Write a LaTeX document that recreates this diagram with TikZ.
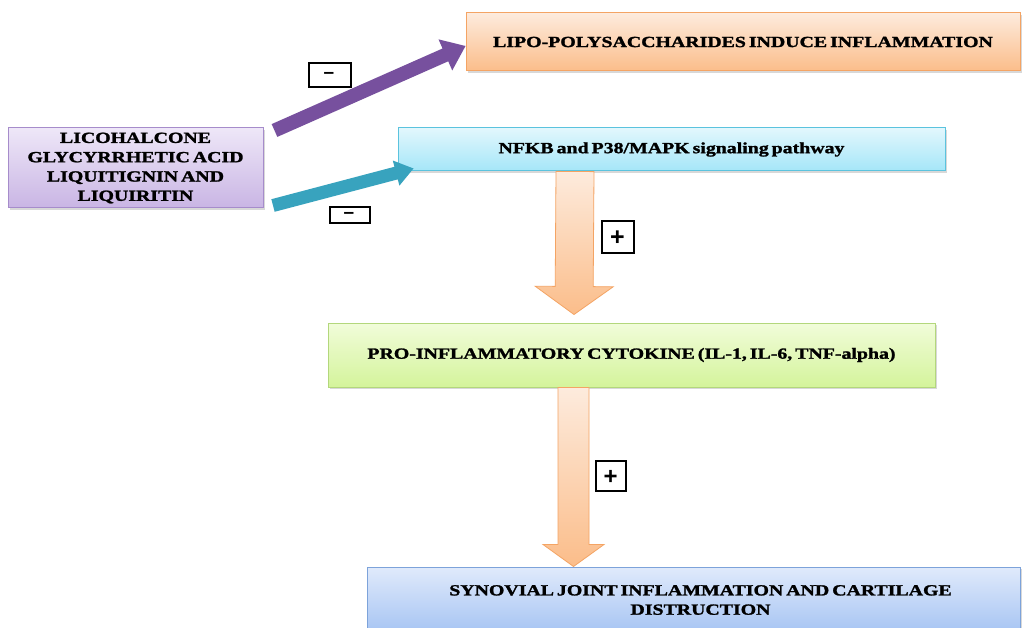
\documentclass[tikz,border=0pt]{standalone}
\usepackage{fontspec}
\setmainfont{Liberation Serif}[FakeStretch=1.28, WordSpace=0.6, BoldFeatures={FakeBold=1.6}]
\newfontfamily\signfont{Liberation Sans}
\usetikzlibrary{calc,shadows}

% box colours (top, bottom, border)
\definecolor{purTop}{HTML}{EEE7F8}
\definecolor{purBot}{HTML}{C9B5E4}
\definecolor{purLine}{HTML}{A68CCB}
\definecolor{orTop}{HTML}{FDEBDD}
\definecolor{orBot}{HTML}{FBBD8A}
\definecolor{orLine}{HTML}{F4A464}
\definecolor{cyTop}{HTML}{E2F7FD}
\definecolor{cyBot}{HTML}{A5E6F8}
\definecolor{cyLine}{HTML}{5BC3DE}
\definecolor{grTop}{HTML}{F1FCDA}
\definecolor{grBot}{HTML}{D4F49B}
\definecolor{grLine}{HTML}{B3D77C}
\definecolor{blTop}{HTML}{E0EAFB}
\definecolor{blBot}{HTML}{A6C4F3}
\definecolor{blLine}{HTML}{7DA3DA}
\definecolor{arPurple}{HTML}{77509E}
\definecolor{arTeal}{HTML}{38A3BE}

\tikzset{
  x=1pt, y=-1pt,
  stage/.style n args={3}{draw=#3, line width=1pt, top color=#1, bottom color=#2,
    drop shadow={shadow xshift=2pt, shadow yshift=-2pt, opacity=0.3},
    font=\bfseries\fontsize{15.5}{19.3}\selectfont, align=center, inner sep=0pt},
  signbox/.style={draw=black, line width=2.5pt, fill=white, inner sep=0pt},
  signtext/.style={inner sep=0pt, font=\signfont\bfseries\fontsize{#1}{#1}\selectfont},
  flowarrow/.style={draw=orLine, line width=0.8pt, top color=orTop, bottom color=orBot},
}

% block arrow: #1 tail, #2 tip, #3 shaft half width, #4 head half width, #5 head length, #6 style
\newcommand\blockarrow[6]{%
  \coordinate (ba-h) at ($(#2)!#5!(#1)$);
  \path[#6] ($(#1)!#3!90:(#2)$) -- ($(ba-h)!#3!90:(#2)$) -- ($(ba-h)!#4!90:(#2)$)
    -- (#2) -- ($(ba-h)!#4!-90:(#2)$) -- ($(ba-h)!#3!-90:(#2)$)
    -- ($(#1)!#3!-90:(#2)$) -- cycle;
}

\begin{document}
\begin{tikzpicture}
\path[use as bounding box, clip] (0,0) rectangle (1022,628);
\fill[white] (0,0) rectangle (1022,628);

% stages
\node[stage={purTop}{purBot}{purLine}, minimum width=255pt, minimum height=80pt]
  (herbs) at (135.5,168) {LICOHALCONE\\GLYCYRRHETIC ACID\\LIQUITIGNIN AND\\LIQUIRITIN};
\node[stage={orTop}{orBot}{orLine}, minimum width=554pt, minimum height=58pt]
  (lps) at (743,42) {LIPO-POLYSACCHARIDES INDUCE INFLAMMATION};
\node[stage={cyTop}{cyBot}{cyLine}, minimum width=547pt, minimum height=43pt]
  (nfkb) at (671.5,149.5) {NFKB and P38/MAPK signaling pathway};
\node[stage={grTop}{grBot}{grLine}, minimum width=607pt, minimum height=64pt]
  (cyto) at (631.5,355) {PRO-INFLAMMATORY CYTOKINE (IL-1, IL-6, TNF-alpha)};
\node[stage={blTop}{blBot}{blLine}, minimum width=653pt, minimum height=66pt]
  (joint) at (693.5,600) {\hspace*{14pt}SYNOVIAL JOINT INFLAMMATION AND CARTILAGE\\\hspace*{14pt}DISTRUCTION};

% inhibitory arrows from the herbal compounds
\coordinate (p-tail) at ($(herbs.north east)+(11,3)$);
\coordinate (p-tip)  at ($(lps.west)+(0,4)$);
\blockarrow{p-tail}{p-tip}{7pt}{17pt}{22pt}{fill=arPurple}
\coordinate (t-tail) at ($(herbs.south east)+(9.5,-3)$);
\coordinate (t-tip)  at ($(nfkb.south west)+(16,-3)$);
\blockarrow{t-tail}{t-tip}{6.5pt}{13pt}{18pt}{fill=arTeal}

% activating arrows down the cascade
\coordinate (d1-tail) at (nfkb.south -| 575,0);
\coordinate (d1-tip)  at ($(cyto.north -| 574,0)+(0,-8)$);
\blockarrow{d1-tail}{d1-tip}{19pt}{39pt}{28pt}{flowarrow}
\coordinate (d2-tail) at (cyto.south -| 573.5,0);
\coordinate (d2-tip)  at (joint.north -| 573.5,0);
\blockarrow{d2-tail}{d2-tip}{15.5pt}{30.5pt}{22pt}{flowarrow}

% signs on the arrows
\node[signbox, minimum width=42pt, minimum height=24pt] (m1) at (330,75) {};
\node[signtext=19] at (329,75) {–};
\node[signbox, minimum width=40pt, minimum height=16pt] (m2) at (350,215) {};
\node[signtext=19] at (349,215) {–};
\node[signbox, minimum width=32pt, minimum height=32pt] (s1) at (618,237) {};
\node[signtext=25] at (617.5,238) {+};
\node[signbox, minimum width=30pt, minimum height=30pt] (s2) at (611,476) {};
\node[signtext=24] at (610.5,477) {+};
\end{tikzpicture}
\end{document}
